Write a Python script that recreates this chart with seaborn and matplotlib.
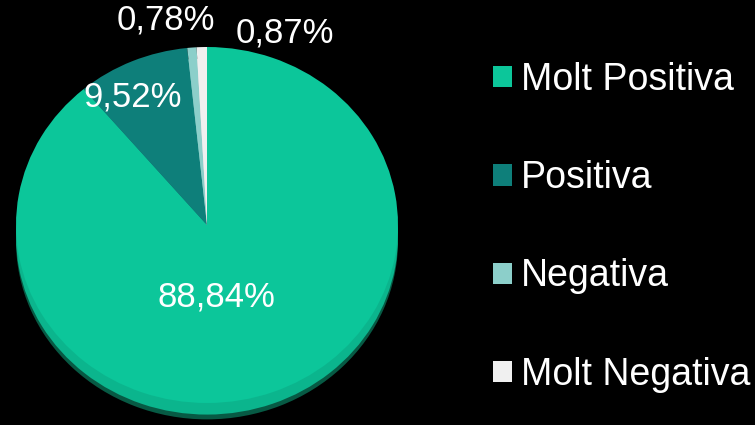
import matplotlib
matplotlib.use("Agg")
import matplotlib.pyplot as plt
import seaborn as sns
from matplotlib.patches import Patch

sns.set_theme(style="white")
plt.rcParams['font.family'] = ['Liberation Sans', 'DejaVu Sans']

categories = ["Molt Positiva", "Positiva", "Negativa", "Molt Negativa"]
values = [88.84, 9.52, 0.78, 0.87]
colors = ["#0cc69a", "#0e7f7a", "#8ccfca", "#f0f0f0"]
side_colors = ["#0bb58d", "#0c6e69", "#7bbcb7", "#d6d6d6"]
label_pos = [(0.052, -0.404), (-0.387, 0.719), (-0.215, 1.152), (0.408, 1.079)]

W, H = 755, 425
fig = plt.figure(figsize=(W / 100, H / 100), dpi=100, facecolor="black")

cx, cy, rx, ry = 207, 225, 191, 178
ylo, yhi = -1.13, 1.0
ax = fig.add_axes([(cx - rx) / W, (H - (cy - ylo * ry)) / H,
                   2 * rx / W, (yhi - ylo) * ry / H])
ax.set_facecolor("black")

# shadow & side of the tilted pie
ax.pie([1], colors=["#075a44"], center=(0, -0.092), startangle=90,
       wedgeprops=dict(linewidth=0))
ax.pie(values, colors=side_colors, center=(0, -0.065), startangle=90,
       counterclock=False, wedgeprops=dict(linewidth=0))
ax.pie(values, colors=colors, startangle=90, counterclock=False,
       wedgeprops=dict(linewidth=0))

for v, (x, y) in zip(values, label_pos):
    ax.text(x, y, f"{v:.2f}%".replace(".", ","), color="white",
            fontsize=25, ha="center", va="center")

ax.set_aspect("auto")
ax.set_xlim(-1, 1)
ax.set_ylim(ylo, yhi)
ax.axis("off")

handles = [Patch(facecolor=c, edgecolor="none") for c in colors]
leg = fig.legend(handles, categories, loc="upper left",
                 bbox_to_anchor=(493 / W, 1 - 62 / H), frameon=False,
                 fontsize=27, labelcolor="white", handlelength=0.5,
                 handleheight=0.5, handletextpad=0.25, labelspacing=1.66,
                 borderpad=0, borderaxespad=0)

fig.savefig("out.png", dpi=100, facecolor="black")
